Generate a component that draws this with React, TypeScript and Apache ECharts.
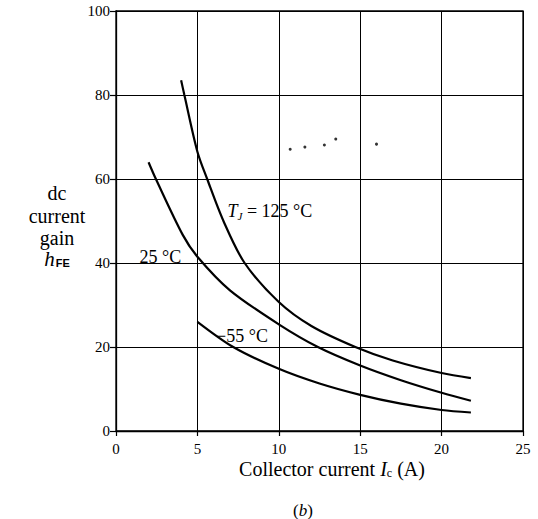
import React, { useEffect, useRef } from "react";
import * as echarts from "echarts";

// Axis ticks
const xTicks = [0, 5, 10, 15, 20, 25];
const yTicks = [0, 20, 40, 60, 80, 100];

// Tj = 125 °C
const ic125 = [4.0, 4.2, 5.0, 5.6, 6.6, 7.9, 10, 12, 14.7, 17, 20, 21.8];
const hfe125 = [83.5, 80, 66.5, 60, 50, 40, 30.7, 25, 20, 16.8, 13.8, 12.6];

// 25 °C
const ic25 = [2.0, 2.45, 4.1, 5.0, 7.0, 10, 12.4, 15, 17.5, 20, 21.8];
const hfe25 = [64, 60, 46.7, 41.5, 33.5, 25.4, 20, 15.6, 12.1, 9.1, 7.2];

// -55 °C
const icM55 = [5.0, 7.2, 10, 12.5, 15, 17.5, 20, 21.8];
const hfeM55 = [26, 20, 14.8, 11.3, 8.6, 6.5, 5.0, 4.4];

// stray dots in the figure
const dotX = [10.7, 11.6, 12.8, 13.5, 16.0];
const dotY = [67.1, 67.6, 68.1, 69.5, 68.3];

// curve label anchors (data coords, left-middle of text)
const labelPos125 = [6.85, 52.3];
const labelPos25 = [1.45, 41.5];
const labelPosM55 = [6.15, 22.7];

const SERIF = "Liberation Serif";
const SANS = "Liberation Sans";

function pairs(xs: number[], ys: number[]) {
  return xs.map((x, i) => [x, ys[i]]);
}

function curve(name: string, xs: number[], ys: number[]) {
  return {
    name,
    type: "line",
    data: pairs(xs, ys),
    smooth: 0.3,
    symbol: "none",
    lineStyle: { color: "#000", width: 2.2 },
    silent: true,
  };
}

export default function App() {
  const ref = useRef<HTMLDivElement>(null);
  useEffect(() => {
    if (!ref.current) return;
    const chart = echarts.init(ref.current, undefined, { renderer: "svg" });
    const axisCommon = {
      type: "value",
      axisLine: { show: true, lineStyle: { color: "#000", width: 1.3 } },
      axisTick: { show: true, inside: false, lineStyle: { color: "#000", width: 1.2 } },
      splitLine: { show: true, lineStyle: { color: "#000", width: 1 } },
    };
    chart.setOption({
      animation: false,
      backgroundColor: "#fff",
      textStyle: { fontFamily: SERIF, color: "#000" },
      grid: {
        left: 116,
        right: 15,
        top: 11,
        bottom: 88,
        show: true,
        borderColor: "#000",
        borderWidth: 1.3,
      },
      xAxis: {
        ...axisCommon,
        min: xTicks[0],
        max: xTicks[xTicks.length - 1],
        interval: xTicks[1] - xTicks[0],
        axisTick: { ...axisCommon.axisTick, length: 5 },
        axisLabel: { show: true, color: "#000", fontFamily: SERIF, fontSize: 15, margin: 10 },
      },
      yAxis: {
        ...axisCommon,
        min: yTicks[0],
        max: yTicks[yTicks.length - 1],
        interval: yTicks[1] - yTicks[0],
        axisTick: { ...axisCommon.axisTick, length: 6 },
        axisLabel: { show: true, color: "#000", fontFamily: SERIF, fontSize: 15, margin: 6 },
      },
      series: [
        curve("125 °C", ic125, hfe125),
        curve("25 °C", ic25, hfe25),
        curve("−55 °C", icM55, hfeM55),
        {
          name: "dots",
          type: "scatter",
          data: pairs(dotX, dotY),
          symbolSize: 3,
          itemStyle: { color: "#000" },
          silent: true,
        },
      ],
    });

    const p125 = chart.convertToPixel({ gridIndex: 0 }, labelPos125) as number[];
    const p25 = chart.convertToPixel({ gridIndex: 0 }, labelPos25) as number[];
    const pM55 = chart.convertToPixel({ gridIndex: 0 }, labelPosM55) as number[];

    const labelStyle = { fontFamily: SERIF, fontSize: 18, fill: "#000" };
    const titleStyle = { fontFamily: SERIF, fontSize: 20, fill: "#000" };

    chart.setOption({
      graphic: [
        {
          type: "text",
          x: p125[0],
          y: p125[1],
          style: {
            text: "{t|T}{j|J}{n| = 125 °C}",
            verticalAlign: "middle",
            align: "left",
            rich: {
              t: { fontFamily: SERIF, fontSize: 18, fontStyle: "italic", fill: "#000" },
              j: { fontFamily: SERIF, fontSize: 11, fontStyle: "italic", fill: "#000", padding: [9, 0, 0, 0] },
              n: { fontFamily: SERIF, fontSize: 18, fill: "#000" },
            },
          },
        },
        {
          type: "text",
          x: p25[0],
          y: p25[1],
          style: { ...labelStyle, text: "25 °C", verticalAlign: "middle", align: "left" },
        },
        {
          type: "text",
          x: pM55[0],
          y: pM55[1],
          style: { ...labelStyle, text: "−55 °C", verticalAlign: "middle", align: "left" },
        },
        // y-axis title
        { type: "text", x: 57, y: 193, style: { ...titleStyle, text: "dc", align: "center", verticalAlign: "middle" } },
        { type: "text", x: 57, y: 216, style: { ...titleStyle, text: "current", align: "center", verticalAlign: "middle" } },
        { type: "text", x: 57, y: 238, style: { ...titleStyle, text: "gain", align: "center", verticalAlign: "middle" } },
        {
          type: "text",
          x: 57,
          y: 259,
          style: {
            text: "{h|h}{fe|FE}",
            align: "center",
            verticalAlign: "middle",
            rich: {
              h: { fontFamily: SERIF, fontSize: 21, fontStyle: "italic", fill: "#000" },
              fe: { fontFamily: SANS, fontSize: 11, fontWeight: "bold", fill: "#000", padding: [7, 0, 0, 1] },
            },
          },
        },
        // x-axis title
        {
          type: "text",
          x: 332,
          y: 469,
          style: {
            text: "{a|Collector current }{i|I}{c|c}{a| (A)}",
            align: "center",
            verticalAlign: "middle",
            rich: {
              a: { fontFamily: SERIF, fontSize: 20, fill: "#000" },
              i: { fontFamily: SERIF, fontSize: 20, fontStyle: "italic", fill: "#000" },
              c: { fontFamily: SERIF, fontSize: 12, fill: "#000", padding: [8, 0, 0, 0] },
            },
          },
        },
        {
          type: "text",
          x: 303,
          y: 510,
          style: {
            text: "{p|(}{b|b}{p|)}",
            align: "center",
            verticalAlign: "middle",
            rich: {
              p: { fontFamily: SERIF, fontSize: 17, fill: "#000" },
              b: { fontFamily: SERIF, fontSize: 17, fontStyle: "italic", fill: "#000" },
            },
          },
        },
      ],
    });

    return () => chart.dispose();
  }, []);

  return (
    <div
      ref={ref}
      style={{ position: "fixed", left: 0, top: 0, width: 538, height: 519, background: "#fff" }}
    />
  );
}
